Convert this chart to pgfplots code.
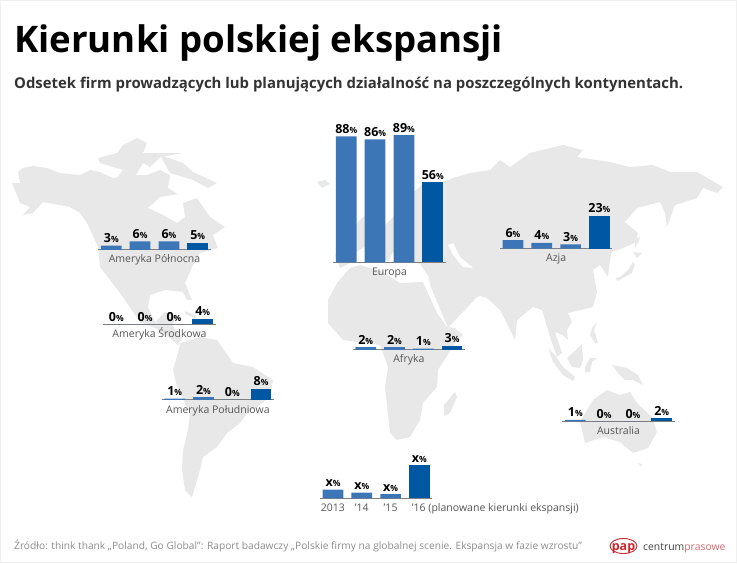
\documentclass[border=0pt]{standalone}
\usepackage{fontspec}
\setmainfont{Open Sans}
\usepackage{xcolor}
\usepackage{pgfplots}
\pgfplotsset{compat=1.18}
\definecolor{land}{HTML}{E8E8E8}
\definecolor{past}{HTML}{3D76B7}
\definecolor{plan}{HTML}{0058A3}
\definecolor{rule}{HTML}{7F7F7F}
\definecolor{lbl}{HTML}{555555}
\definecolor{papred}{HTML}{C8282D}
\newcommand\pct{{\fontsize{8.5}{9}\selectfont\%}}
\pgfplotsset{
  land/.style={fill=land,draw=none},
  panel/.style={
    scale only axis,width=112.4pt,height=143pt,
    xmin=-0.45,xmax=3.45,ymin=0,ymax=100,
    axis x line*=bottom,axis y line=none,
    axis line style={draw=rule,line width=1pt},
    xtick=\empty,major tick length=0pt,clip=false,anchor=south west,
    ybar=0pt,bar shift=0pt,bar width=20.7pt,
    /pgf/number format/assume math mode=true,
    point meta=y,
    nodes near coords={\pgfmathprintnumber{\pgfplotspointmeta}\pct},
    every node near coord/.style={font=\fontsize{12.5}{13}\selectfont\bfseries,text=black,anchor=base,inner sep=0pt,yshift=3pt},
    xlabel style={at={(axis description cs:0.5,0)},anchor=base,yshift=-13pt,inner sep=0pt,font=\fontsize{10.5}{12}\selectfont,text=lbl},
    xticklabel style={anchor=base,yshift=-13pt,inner sep=0pt,font=\fontsize{10.5}{12}\selectfont,text=lbl},
  }
}
% #2 left end of the rule, #3 rule height (both in reference pixels), #4-#7 values, #8 name
\newcommand\panel[8][]{%
\begin{axis}[panel,at={(#2pt,{(563-#3)*1pt})},xlabel={#8},#1]
\addplot[fill=past,draw=none] coordinates {(0,#4) (1,#5) (2,#6)};
\addplot[fill=plan,draw=none] coordinates {(3,#7)};
\end{axis}}

\begin{document}
\begin{tikzpicture}
\begin{axis}[at={(0pt,0pt)},anchor=south west,scale only axis,width=737pt,height=563pt,
  xmin=0,xmax=737,ymin=0,ymax=563,y dir=reverse,hide axis,clip=false]
% North America
\addplot[land] coordinates {(12,183) (20,183) (18,172) (23,168) (33,166) (47,168) (60,173) (80,175) (90,170) (100,172) (113,178) (133,175) (147,175) (160,170) (170,175) (168,188) (178,194) (160,197) (148,208) (163,215) (177,223) (185,217) (183,203) (197,198) (210,217) (225,227) (213,235) (218,248) (200,253) (192,267) (185,283) (192,300) (187,300) (183,292) (165,290) (150,295) (148,307) (155,322) (165,312) (178,316) (172,325) (182,338) (178,345) (170,338) (155,328) (140,322) (120,293) (100,267) (98,247) (87,223) (80,213) (70,207) (43,202) (33,213) (23,215) (30,207) (20,203) (15,190)} --cycle;
% Arctic islands
\addplot[land] coordinates {(98,158) (117,153) (123,145) (137,138) (147,143) (143,153) (183,153) (160,157) (150,167) (143,163) (133,180) (115,180) (123,170) (100,163)} --cycle;
\addplot[land] coordinates {(160,155) (183,163) (193,172) (217,183) (208,188) (193,180) (170,173)} --cycle;
% Cuba, Iceland
\addplot[land] coordinates {(185,311) (197,316) (195,318) (185,314)} --cycle;
\addplot[land] coordinates {(317,182) (325,180) (330,184) (322,188)} --cycle;
% South America
\addplot[land] coordinates {(180,343) (200,337) (217,340) (233,363) (253,367) (273,380) (270,397) (257,407) (247,413) (240,423) (227,433) (217,447) (203,457) (200,470) (192,497) (185,490) (182,470) (183,450) (188,430) (190,413) (177,387) (173,370) (178,353)} --cycle;
% Africa
\addplot[land] coordinates {(350,268) (360,265) (383,272) (400,283) (423,282) (437,313) (447,327) (455,328) (463,335) (457,340) (438,370) (437,387) (423,403) (420,420) (410,437) (397,440) (390,433) (385,387) (388,367) (380,345) (343,340) (328,323) (328,300) (337,283)} --cycle;
\addplot[land] coordinates {(455,392) (457,397) (450,413) (444,416) (444,405)} --cycle;
% Eurasia
\addplot[land] coordinates {(443,182) (453,178) (470,173) (490,170) (500,160) (510,167) (530,153) (563,145) (583,150) (577,157) (610,162) (630,167) (653,165) (670,172) (697,172) (723,187) (717,193) (703,188) (697,198) (675,205) (667,227) (665,213) (660,202) (637,208) (625,222) (638,233) (635,243) (623,248) (612,252) (610,260) (608,277) (600,265) (593,270) (597,292) (593,307) (568,313) (572,322) (567,330) (568,340) (563,335) (555,332) (562,353) (557,357) (550,337) (542,310) (533,307) (517,320) (515,340) (500,310) (487,298) (480,296) (477,297) (448,328) (430,285) (429,277) (420,264) (414,262) (400,248) (393,252) (388,262) (366,246) (356,252) (352,262) (340,268) (335,255) (345,240) (358,222) (365,215) (385,225) (392,218) (405,200) (425,182)} --cycle;
% Caspian
\addplot[fill=white,draw=none] coordinates {(448,245) (453,243) (460,257) (473,268) (463,267) (453,255)} --cycle;
% Japan, Sakhalin, SE Asia islands
\addplot[land] coordinates {(615,278) (620,277) (628,270) (633,262) (635,265) (632,273) (623,278) (618,281)} --cycle;
\addplot[land] coordinates {(633,252) (642,253) (637,258)} --cycle;
\addplot[land] coordinates {(635,237) (640,238) (635,248)} --cycle;
\addplot[land] coordinates {(548,348) (555,355) (563,367) (575,377) (573,381) (563,375) (553,362)} --cycle;
\addplot[land] coordinates {(567,358) (582,344) (583,360) (580,368) (572,367)} --cycle;
\addplot[land] coordinates {(585,367) (590,358) (597,358) (592,362) (590,372) (585,372)} --cycle;
\addplot[land] coordinates {(612,365) (627,368) (638,375) (643,385) (633,380) (625,380) (618,373)} --cycle;
\addplot[land] coordinates {(592,328) (597,322) (594,330) (598,343) (595,343) (590,335)} --cycle;
% Australia
\addplot[land] coordinates {(580,422) (593,400) (607,390) (620,395) (630,392) (637,403) (652,417) (657,432) (648,448) (633,453) (620,442) (603,437) (585,443) (582,430)} --cycle;
\addplot[land] coordinates {(638,463) (642,464) (641,467)} --cycle;

\draw[black!6,line width=1pt] (axis cs:0.5,0.5) rectangle (axis cs:736.5,562.5);
\node[anchor=base west,inner sep=0pt,font=\fontsize{36.6}{40}\selectfont\bfseries] at (axis cs:14,52) {Kierunki polskiej ekspansji};
\node[anchor=base west,inner sep=0pt,text=black!80,font=\fontsize{14.9}{18}\selectfont\bfseries] at (axis cs:14,88) {Odsetek firm prowadzących lub planujących działalność na poszczególnych kontynentach.};
\node[anchor=base west,inner sep=0pt,text=black!45,font=\fontsize{10.2}{12}\selectfont] at (axis cs:14,549) {Źródło: think thank „Poland, Go Global”: Raport badawczy „Polskie firmy na globalnej scenie. Ekspansja w fazie wzrostu”};
\draw[papred,line width=0.9pt] (axis cs:623.5,546) ellipse [x radius=13.5pt,y radius=7.5pt];
\node[anchor=base,inner sep=0pt,text=papred,font=\fontsize{12.5}{13}\selectfont\bfseries] at (axis cs:623.5,550) {pap};
\node[anchor=base west,inner sep=0pt,font=\fontsize{10.4}{14}\selectfont] at (axis cs:643,550) {\textcolor{black!75}{centrum}\textcolor{papred!70}{prasowe}};
\end{axis}

\panel{98.3}{250}{3}{6}{6}{5}{Ameryka Północna}
\panel{103.3}{324.3}{0}{0}{0}{4}{Ameryka Środkowa}
\panel{161.7}{400}{1}{2}{0}{8}{Ameryka Południowa}
\panel{333.3}{262.3}{88}{86}{89}{56}{Europa}
\panel{500}{248.7}{6}{4}{3}{23}{Azja}
\panel{352.7}{350}{2}{2}{1}{3}{Afryka}
\panel{562.3}{421.3}{1}{0}{0}{2}{Australia}
\panel[xtick={0,1,2},xticklabels={2013,'14,'15},
  nodes near coords={x\pct},
  xlabel style={at={(axis description cs:0.816,0)},anchor=base west}]{320}{498.3}{6}{4}{3}{23}{'16 (planowane kierunki ekspansji)}
\end{tikzpicture}
\end{document}
